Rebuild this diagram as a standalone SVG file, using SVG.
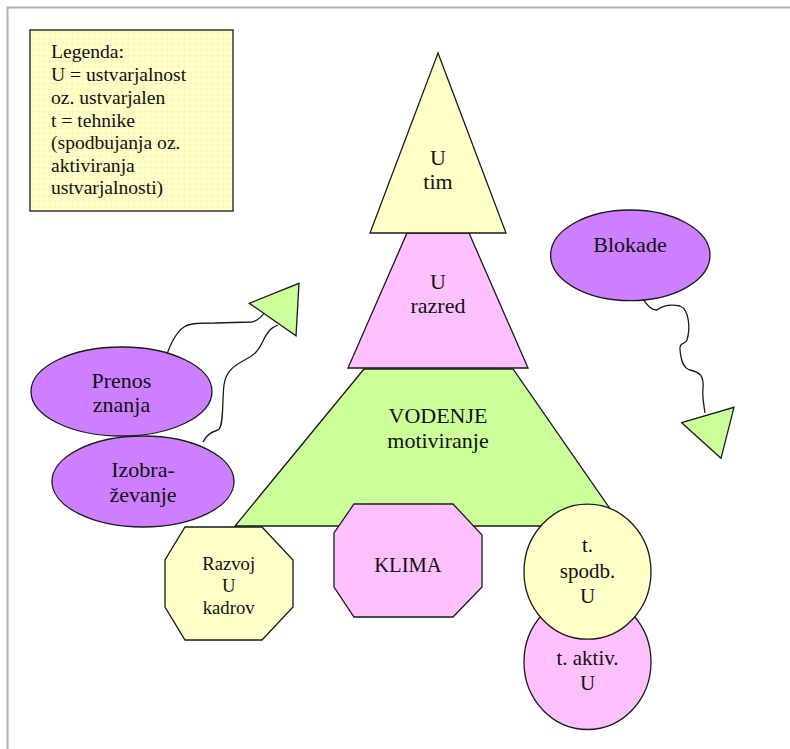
<svg xmlns="http://www.w3.org/2000/svg" width="790" height="749" viewBox="0 0 790 749">
<style>
  .shape { stroke: #1a1a1a; stroke-width: 1.3; stroke-linejoin: miter; }
  .green { fill: #CCFF99; }
  .pink { fill: #FFC0FF; }
  .yellow { fill: #FFFFC8; }
  .purple { fill: #CC80FF; }
  text { font-family: "Times New Roman", Times, "Liberation Serif", "DejaVu Serif", "Noto Serif", serif; }
  .t { fill: #111; text-anchor: middle; }
  .t22 { font-size: 22px; }
  .t21 { font-size: 21px; }
  .t19 { font-size: 18.7px; }
  .leg { font-size: 19.6px; fill: #111; }
  .conn { fill: none; stroke: #1a1a1a; stroke-width: 1.3; }
</style>
<defs>
  <pattern id="grid" width="5.6" height="5.6" patternUnits="userSpaceOnUse">
    <rect width="5.6" height="5.6" fill="#FFFFC8"/>
    <path d="M5.6,0 V5.6 M0,5.6 H5.6" stroke="#F2EDB0" stroke-width="0.8" fill="none"/>
  </pattern>
</defs>
<rect width="790" height="749" fill="#ffffff"/>
<path d="M7.5,749 V7.5 H790" fill="none" stroke="#b0b0b0" stroke-width="2"/>

<g id="legend">
  <rect x="30" y="30" width="203" height="181" fill="url(#grid)" class="shape"/>
  <text class="leg" x="51" y="58">Legenda:</text>
  <text class="leg" x="51" y="81">U = ustvarjalnost</text>
  <text class="leg" x="51" y="104">oz. ustvarjalen</text>
  <text class="leg" x="51" y="126.5">t = tehnike</text>
  <text class="leg" x="51" y="149">(spodbujanja oz.</text>
  <text class="leg" x="51" y="172">aktiviranja</text>
  <text class="leg" x="51" y="194">ustvarjalnosti)</text>
</g>

<g id="connectors">
  <path class="conn" d="M166,357 C170,345 175,333 184,327 C190,323 200,323 215,323 L252,322 C258,321 262,317 267,309"/>
  <path class="conn" d="M203,442 C206,436 210,432 218,430 C224,428 222,400 224,385 C226,370 235,365 250,357 C262,350 262,338 270,330 C273,327 275,326 278,325"/>
  <path class="conn" d="M642,298 C646,303 650,310 657,310 C662,306 670,304 680,306 C690,310 690,330 687,340 C685,345 679,342 680,350 C681,360 683,368 690,370 C700,372 704,376 703,388 C702,398 704,405 705,413"/>
</g>

<g id="vodenje">
  <polygon class="shape green" points="364,369 513,369 622,526 235,526"/>
  <text class="t t22" x="438" y="423">VODENJE</text>
  <text class="t t22" x="438" y="448">motiviranje</text>
</g>

<g id="u-razred">
  <polygon class="shape pink" points="407,233 469,233 528,368 348,368"/>
  <text class="t t22" x="438" y="289">U</text>
  <text class="t t22" x="438" y="313">razred</text>
</g>

<g id="u-tim">
  <polygon class="shape yellow" points="438,53 506,233 370,233"/>
  <text class="t t22" x="438" y="165">U</text>
  <text class="t t22" x="438" y="189">tim</text>
</g>

<g id="prenos-znanja">
  <ellipse class="shape purple" cx="121.5" cy="391.5" rx="90.5" ry="44.5"/>
  <text class="t t22" x="121.5" y="388">Prenos</text>
  <text class="t t22" x="121.5" y="412">znanja</text>
</g>

<g id="izobrazevanje">
  <ellipse class="shape purple" cx="143" cy="481.5" rx="91" ry="45.5"/>
  <text class="t t22" x="143" y="477">Izobra-</text>
  <text class="t t22" x="143" y="502">ževanje</text>
</g>

<g id="blokade">
  <ellipse class="shape purple" cx="630.3" cy="255.3" rx="79.7" ry="45.3"/>
  <text class="t t22" x="630" y="252">Blokade</text>
</g>

<g id="target-left">
  <polygon class="shape green" points="249.3,303.3 299,283.3 296,335.7"/>
</g>

<g id="target-right">
  <polygon class="shape green" points="681.7,422.7 734,407.3 721,458.3"/>
</g>

<g id="razvoj-u-kadrov">
  <polygon class="shape yellow" points="185,527 262,527 293,560 293,607 262,640 185,640 165,607 165,560"/>
  <text class="t t19" x="228.7" y="570">Razvoj</text>
  <text class="t t19" x="228.7" y="592">U</text>
  <text class="t t19" x="228.7" y="614">kadrov</text>
</g>

<g id="klima">
  <polygon class="shape pink" points="354,504 453,504 482,535 482,587 453,617 354,617 334,587 334,533"/>
  <text class="t" style="font-size:20.6px" x="408" y="572">KLIMA</text>
</g>

<g id="t-aktiv-u">
  <ellipse class="shape pink" cx="587.5" cy="662" rx="63.5" ry="67.5"/>
  <text class="t t21" x="587.5" y="665">t. aktiv.</text>
  <text class="t t21" x="587.5" y="690">U</text>
</g>

<g id="t-spodb-u">
  <ellipse class="shape yellow" cx="587.5" cy="571.7" rx="63.5" ry="67.5"/>
  <text class="t t21" x="587.5" y="552">t.</text>
  <text class="t t21" x="587.5" y="578">spodb.</text>
  <text class="t t21" x="587.5" y="603">U</text>
</g>
</svg>
